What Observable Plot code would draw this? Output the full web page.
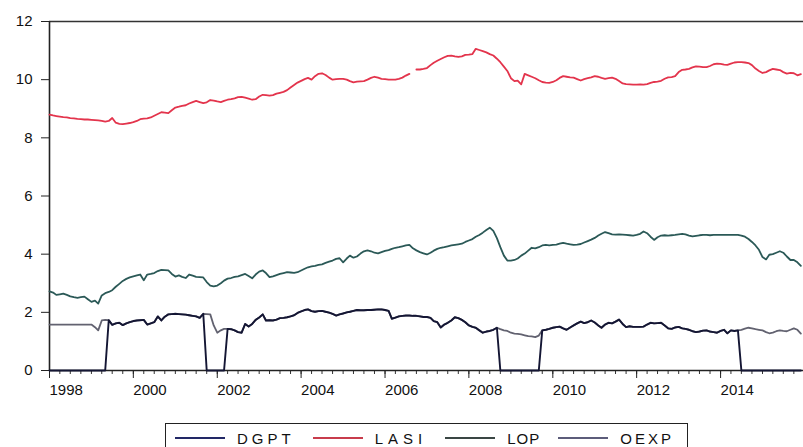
<!DOCTYPE html>
<html>
<head>
<meta charset="utf-8">
<script src="https://cdn.jsdelivr.net/npm/d3@7"></script>
<script src="https://cdn.jsdelivr.net/npm/@observablehq/plot@0.6"></script>
<style>
  html, body { margin: 0; padding: 0; background: #fff; }
  body { position: relative; width: 803px; height: 447px; overflow: hidden;
         font-family: "Liberation Sans", Arial, sans-serif; color: #111; }
  #chart { position: absolute; left: 0; top: 0; }
  #legend { position: absolute; left: 165px; top: 423px; width: 523px; height: 30px;
            border: 1px solid #222; box-sizing: border-box; display: flex; align-items: center;
            padding-left: 9px; font-size: 15px; }
  .item { display: flex; align-items: center; margin-right: 18px; }
  .item svg { margin-right: 12px; }
</style>
</head>
<body>
<div id="chart"></div>
<div id="legend"></div>
<script>
// ---- data (monthly, 1998-01 .. 2015-12) ----
const seriesNames = ["DGPT", "LASI", "LOP", "OEXP"];

const lasi = [
  8.80, 8.77, 8.75, 8.73, 8.71, 8.70, 8.68, 8.67, 8.65, 8.64, 8.63, 8.63,
  8.62, 8.61, 8.60, 8.58, 8.56, 8.58, 8.68, 8.52, 8.48, 8.47, 8.49, 8.51,
  8.54, 8.58, 8.64, 8.66, 8.67, 8.70, 8.76, 8.82, 8.88, 8.87, 8.85, 8.95,
  9.04, 9.07, 9.10, 9.12, 9.18, 9.23, 9.27, 9.23, 9.19, 9.22, 9.30, 9.28,
  9.25, 9.23, 9.27, 9.31, 9.33, 9.36, 9.40, 9.41, 9.38, 9.35, 9.31, 9.33,
  9.42, 9.48, 9.47, 9.45, 9.47, 9.52, 9.55, 9.58, 9.64, 9.73, 9.82, 9.90,
  9.96, 10.02, 10.06, 10.00, 10.12, 10.20, 10.22, 10.16, 10.07, 10.00, 10.02, 10.03,
  10.03, 10.00, 9.95, 9.91, 9.93, 9.94, 9.95, 10.00, 10.06, 10.10, 10.07, 10.03,
  10.02, 10.00, 10.00, 10.00, 10.03, 10.07, 10.14, 10.20, NaN, 10.35, 10.35, 10.37,
  10.40, 10.50, 10.58, 10.65, 10.71, 10.77, 10.82, 10.83, 10.80, 10.78, 10.80, 10.85,
  10.86, 10.88, 11.06, 11.02, 10.98, 10.94, 10.88, 10.83, 10.72, 10.60, 10.45, 10.30,
  10.05, 9.95, 9.97, 9.84, 10.20, 10.15, 10.10, 10.05, 9.98, 9.92, 9.90, 9.89,
  9.92, 9.98, 10.06, 10.12, 10.10, 10.08, 10.07, 10.02, 9.97, 10.02, 10.05, 10.08,
  10.12, 10.10, 10.06, 10.03, 10.05, 10.07, 10.03, 9.95, 9.87, 9.85, 9.84, 9.83,
  9.83, 9.84, 9.83, 9.85, 9.89, 9.92, 9.93, 9.96, 10.03, 10.08, 10.09, 10.12,
  10.26, 10.34, 10.35, 10.37, 10.42, 10.46, 10.45, 10.43, 10.43, 10.47, 10.53, 10.55,
  10.54, 10.52, 10.51, 10.55, 10.59, 10.60, 10.60, 10.59, 10.57, 10.50, 10.38, 10.30,
  10.23, 10.26, 10.32, 10.37, 10.35, 10.33, 10.26, 10.21, 10.23, 10.22, 10.15, 10.19
];

const lop = [
  2.72, 2.68, 2.60, 2.62, 2.64, 2.60, 2.55, 2.52, 2.50, 2.52, 2.54, 2.45,
  2.36, 2.40, 2.30, 2.58, 2.66, 2.70, 2.76, 2.88, 2.98, 3.08, 3.15, 3.20,
  3.24, 3.27, 3.30, 3.10, 3.30, 3.32, 3.35, 3.42, 3.46, 3.45, 3.44, 3.32,
  3.23, 3.27, 3.22, 3.18, 3.30, 3.26, 3.22, 3.21, 3.20, 3.04, 2.92, 2.89,
  2.92, 3.00, 3.09, 3.16, 3.18, 3.22, 3.24, 3.28, 3.32, 3.25, 3.17, 3.30,
  3.40, 3.44, 3.35, 3.21, 3.24, 3.28, 3.32, 3.35, 3.38, 3.37, 3.36, 3.38,
  3.44, 3.50, 3.55, 3.58, 3.60, 3.63, 3.65, 3.70, 3.74, 3.78, 3.84, 3.86,
  3.72, 3.85, 3.95, 3.88, 3.92, 4.02, 4.10, 4.13, 4.10, 4.05, 4.03, 4.07,
  4.11, 4.14, 4.18, 4.22, 4.24, 4.27, 4.30, 4.32, 4.20, 4.13, 4.07, 4.03,
  3.99, 4.05, 4.12, 4.18, 4.22, 4.24, 4.27, 4.30, 4.32, 4.34, 4.36, 4.42,
  4.47, 4.52, 4.60, 4.66, 4.74, 4.83, 4.91, 4.80, 4.55, 4.24, 3.95, 3.78,
  3.78, 3.80, 3.85, 3.95, 4.02, 4.12, 4.22, 4.20, 4.24, 4.30, 4.32, 4.30,
  4.32, 4.33, 4.36, 4.39, 4.36, 4.34, 4.32, 4.33, 4.35, 4.40, 4.45, 4.50,
  4.56, 4.64, 4.70, 4.76, 4.72, 4.68, 4.67, 4.68, 4.67, 4.66, 4.65, 4.64,
  4.66, 4.70, 4.78, 4.72, 4.60, 4.49, 4.58, 4.64, 4.65, 4.64, 4.65, 4.66,
  4.68, 4.70, 4.68, 4.64, 4.61, 4.63, 4.65, 4.66, 4.66, 4.65, 4.66, 4.66,
  4.66, 4.66, 4.66, 4.66, 4.66, 4.66, 4.64, 4.60, 4.52, 4.42, 4.30, 4.15,
  3.90, 3.82, 3.98, 4.00, 4.05, 4.10, 4.05, 3.92, 3.80, 3.80, 3.72, 3.60
];

const oexp = [
  1.58, 1.58, 1.58, 1.58, 1.58, 1.58, 1.58, 1.58, 1.58, 1.58, 1.58, 1.58,
  1.58, 1.49, 1.38, 1.72, 1.74, 1.73, 1.57, 1.62, 1.64, 1.56, 1.62, 1.66,
  1.70, 1.72, 1.73, 1.74, 1.58, 1.62, 1.66, 1.86, 1.72, 1.85, 1.93, 1.94,
  1.95, 1.94, 1.93, 1.92, 1.90, 1.88, 1.86, 1.81, 1.95, 1.94, 1.93, 1.55,
  1.30, 1.38, 1.43, 1.43, 1.42, 1.38, 1.32, 1.30, 1.60, 1.51, 1.60, 1.74,
  1.82, 1.93, 1.72, 1.73, 1.72, 1.75, 1.80, 1.81, 1.83, 1.86, 1.90, 1.98,
  2.03, 2.08, 2.10, 2.04, 2.02, 2.04, 2.05, 2.02, 1.99, 1.95, 1.89, 1.93,
  1.96, 2.00, 2.02, 2.05, 2.08, 2.07, 2.07, 2.08, 2.08, 2.09, 2.10, 2.10,
  2.08, 2.05, 1.78, 1.82, 1.86, 1.88, 1.89, 1.89, 1.88, 1.88, 1.86, 1.84,
  1.84, 1.81, 1.70, 1.66, 1.48, 1.58, 1.64, 1.72, 1.83, 1.80, 1.74, 1.66,
  1.55, 1.50, 1.47, 1.38, 1.30, 1.34, 1.36, 1.40, 1.47, 1.42, 1.38, 1.36,
  1.30, 1.27, 1.26, 1.24, 1.21, 1.18, 1.17, 1.15, 1.20, 1.38, 1.40, 1.43,
  1.47, 1.49, 1.51, 1.45, 1.40, 1.48, 1.55, 1.62, 1.68, 1.63, 1.66, 1.72,
  1.65, 1.55, 1.47, 1.58, 1.64, 1.62, 1.68, 1.75, 1.60, 1.49, 1.52, 1.50,
  1.50, 1.50, 1.51, 1.58, 1.64, 1.62, 1.63, 1.64, 1.55, 1.45, 1.43, 1.48,
  1.50, 1.45, 1.43, 1.40, 1.35, 1.32, 1.34, 1.37, 1.38, 1.34, 1.32, 1.30,
  1.36, 1.40, 1.28, 1.38, 1.36, 1.38, 1.40, 1.44, 1.47, 1.45, 1.42, 1.40,
  1.38, 1.32, 1.28, 1.30, 1.35, 1.38, 1.36, 1.35, 1.40, 1.45, 1.40, 1.27
];

const dgpt = [
  0, 0, 0, 0, 0, 0, 0, 0, 0, 0, 0, 0,
  0, 0, 0, 0, 0, 1.73, 1.57, 1.62, 1.64, 1.56, 1.62, 1.66,
  1.70, 1.72, 1.73, 1.74, 1.58, 1.62, 1.66, 1.86, 1.72, 1.85, 1.93, 1.94,
  1.95, 1.94, 1.93, 1.92, 1.90, 1.88, 1.86, 1.81, 1.95, 0, 0, 0,
  0, 0, 0, 1.43, 1.42, 1.38, 1.32, 1.30, 1.60, 1.51, 1.60, 1.74,
  1.82, 1.93, 1.72, 1.73, 1.72, 1.75, 1.80, 1.81, 1.83, 1.86, 1.90, 1.98,
  2.03, 2.08, 2.10, 2.04, 2.02, 2.04, 2.05, 2.02, 1.99, 1.95, 1.89, 1.93,
  1.96, 2.00, 2.02, 2.05, 2.08, 2.07, 2.07, 2.08, 2.08, 2.09, 2.10, 2.10,
  2.08, 2.05, 1.78, 1.82, 1.86, 1.88, 1.89, 1.89, 1.88, 1.88, 1.86, 1.84,
  1.84, 1.81, 1.70, 1.66, 1.48, 1.58, 1.64, 1.72, 1.83, 1.80, 1.74, 1.66,
  1.55, 1.50, 1.47, 1.38, 1.30, 1.34, 1.36, 1.40, 1.47, 0, 0, 0,
  0, 0, 0, 0, 0, 0, 0, 0, 0, 1.38, 1.40, 1.43,
  1.47, 1.49, 1.51, 1.45, 1.40, 1.48, 1.55, 1.62, 1.68, 1.63, 1.66, 1.72,
  1.65, 1.55, 1.47, 1.58, 1.64, 1.62, 1.68, 1.75, 1.60, 1.49, 1.52, 1.50,
  1.50, 1.50, 1.51, 1.58, 1.64, 1.62, 1.63, 1.64, 1.55, 1.45, 1.43, 1.48,
  1.50, 1.45, 1.43, 1.40, 1.35, 1.32, 1.34, 1.37, 1.38, 1.34, 1.32, 1.30,
  1.36, 1.40, 1.28, 1.38, 1.36, 1.38, 0, 0, 0, 0, 0, 0,
  0, 0, 0, 0, 0, 0, 0, 0, 0, 0, 0, 0
];

const yTicks = [0, 2, 4, 6, 8, 10, 12];
const xLabelYears = [1998, 2000, 2002, 2004, 2006, 2008, 2010, 2012, 2014];

// ---- build ----
const start = new Date(Date.UTC(1998, 0, 1));
const months = d3.utcMonth.range(start, new Date(Date.UTC(2016, 0, 1)));
const rows = months.map((date, i) => ({date, DGPT: dgpt[i], LASI: lasi[i], LOP: lop[i], OEXP: oexp[i]}));

const colors = {DGPT: "#141634", LASI: "#e3344c", LOP: "#2b5957", OEXP: "#626270"};
const legendColors = {DGPT: "#222866", LASI: "#c83c4c", LOP: "#3a4644", OEXP: "#5c5c7a"};
const legendSpacing = {DGPT: "4px", LASI: "5px", LOP: "1px", OEXP: "3px"};

const majorTicks = xLabelYears.map(y => new Date(Date.UTC(y, 0, 1)));
const minorTicks = d3.utcMonth.every(3).range(start, new Date(Date.UTC(2016, 0, 1)));

const chart = Plot.plot({
  width: 803,
  height: 412,
  marginLeft: 49,
  marginRight: 0,
  marginTop: 21,
  marginBottom: 42,
  style: {fontFamily: "'Liberation Sans', Arial, sans-serif", fontSize: "15px", color: "#111", background: "#fff"},
  x: {type: "utc", domain: [start, new Date(Date.UTC(2015, 11, 24))]},
  y: {domain: [0, 12]},
  marks: [
    Plot.ruleY([12], {stroke: "#333", strokeWidth: 1.6}),
    Plot.ruleX([start], {stroke: "#222", strokeWidth: 1.6}),
    Plot.axisY({ticks: yTicks, tickSize: 8, tickPadding: 9, fontSize: 15, stroke: "#222"}),
    Plot.axisX({ticks: minorTicks, tickSize: 4, tickFormat: () => "", stroke: "#333"}),
    Plot.axisX({ticks: majorTicks, tickSize: 8, tickPadding: 6, tickFormat: d3.utcFormat("%Y"),
                textAnchor: "start", fontSize: 15, stroke: "#222"}),
    Plot.ruleY([0], {stroke: "#222", strokeWidth: 1.5}),
    Plot.lineY(rows, {x: "date", y: "OEXP", stroke: colors.OEXP, strokeWidth: 1.8}),
    Plot.lineY(rows, {x: "date", y: "DGPT", stroke: colors.DGPT, strokeWidth: 1.9}),
    Plot.lineY(rows, {x: "date", y: "LOP", stroke: colors.LOP, strokeWidth: 1.8}),
    Plot.lineY(rows, {x: "date", y: "LASI", stroke: colors.LASI, strokeWidth: 1.8})
  ]
});
document.getElementById("chart").appendChild(chart);

// ---- legend ----
const legend = d3.select("#legend");
for (const name of seriesNames) {
  const item = legend.append("div").attr("class", "item");
  const svg = item.append("svg").attr("width", 50).attr("height", 6);
  svg.append("line").attr("x1", 0).attr("x2", 50).attr("y1", 3).attr("y2", 3)
     .attr("stroke", legendColors[name]).attr("stroke-width", 2);
  item.append("span").text(name).style("letter-spacing", legendSpacing[name]);
}
</script>
</body>
</html>
